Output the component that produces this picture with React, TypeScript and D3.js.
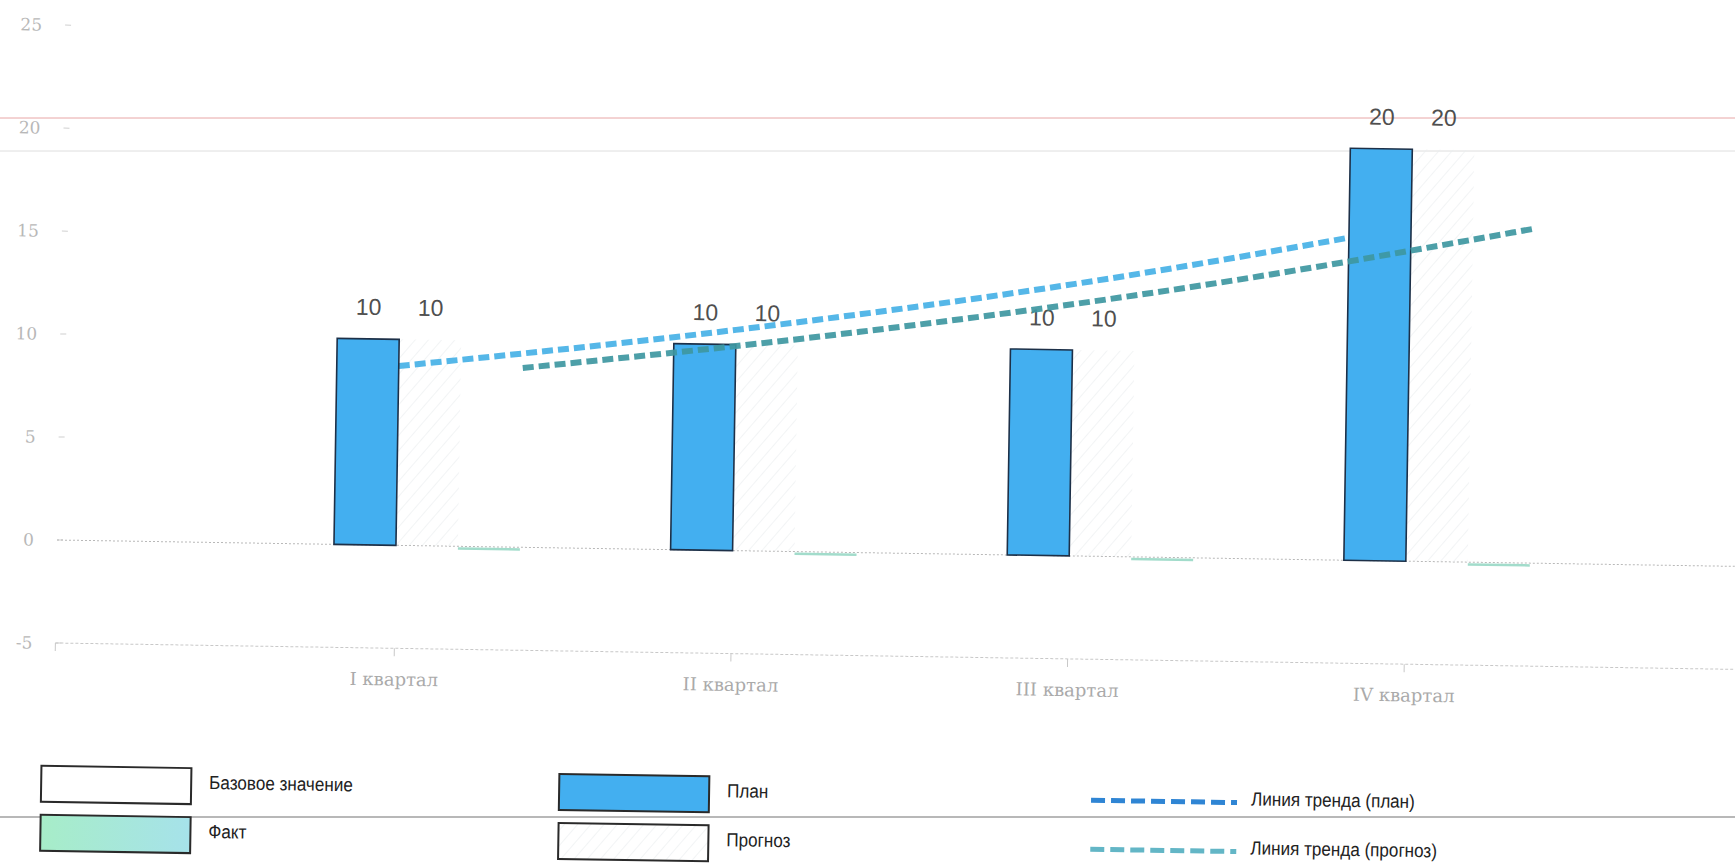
import React from 'react';
import * as d3 from 'd3';

// ---------- data ----------
const categories = ['I квартал', 'II квартал', 'III квартал', 'IV квартал'];
const seriesKeys = ['base', 'plan', 'forecast', 'fact'];
const baseValues = [0, 0, 0, 0];
const planValues = [10, 10, 10, 20];
const forecastValues = [10, 10, 10, 20];
const factValues = [0, 0, 0, 0];
const yTicks = [-5, 0, 5, 10, 15, 20, 25];
const legendLabels = [
  'Базовое значение',
  'Факт',
  'План',
  'Прогноз',
  'Линия тренда (план)',
  'Линия тренда (прогноз)',
];

// ---------- layout / style ----------
const W = 1735;
const H = 865;
const TILT = 0.9;
const PIVOT = [57, 540];
const C = {
  plan: '#43aff0',
  planStroke: '#1d3048',
  hatch: '#e9ecef',
  fact: '#a2dccb',
  trendPlan: '#55b7e8',
  trendForecast: '#3e97a1',
  legTrendPlan: '#2f85d4',
  legTrendForecast: '#63b6c6',
  axisText: '#b8b8b8',
  grid: '#b8b8b8',
  label: '#4f4f4f',
};

function expFit(values: number[]): number[] {
  const xs = values.map((_, i) => i + 1);
  const ls = values.map((v) => Math.log(v));
  const mx = d3.mean(xs) as number;
  const my = d3.mean(ls) as number;
  const b =
    d3.sum(xs, (x, i) => (x - mx) * (ls[i] - my)) /
    d3.sum(xs, (x) => (x - mx) * (x - mx));
  const a = my - b * mx;
  return xs.map((x) => Math.exp(a + b * x));
}

export default function App() {
  const x0 = d3
    .scaleBand<string>()
    .domain(categories)
    .range([57, 1745])
    .paddingInner(0.2634)
    .paddingOuter(0.6386);
  const x1 = d3.scaleBand<string>().domain(seriesKeys).range([0, x0.bandwidth()]);
  const y = d3.scaleLinear().domain([-5, 25]).range([643, 25]);

  const valuesByKey: Record<string, number[]> = {
    base: baseValues,
    plan: planValues,
    forecast: forecastValues,
    fact: factValues,
  };

  const trendPlan = expFit(planValues);
  const trendForecast = expFit(forecastValues);
  const line = d3
    .line<[number, number]>()
    .x((d) => d[0])
    .y((d) => y(d[1]))
    .curve(d3.curveMonotoneX);
  const planTrendPath = line(
    categories.map((c, i) => [(x0(c) as number) + (x1('forecast') as number), trendPlan[i]])
  );
  const forecastTrendPath = line(
    categories.map((c, i) => [(x0(c) as number) + x0.bandwidth(), trendForecast[i]])
  );

  const bw = x1.bandwidth();
  const xL = 57;
  const xR = 1745;

  const legendCols = [45, 563, 1095];
  const legendTextX = [213, 731, 1255];
  const legendRows = [766, 815];
  const swW = 150;
  const swH = 36;

  const legend = [
    { label: legendLabels[0], kind: 'box', fill: '#ffffff', col: 0, row: 0 },
    { label: legendLabels[1], kind: 'box', fill: 'url(#factGrad)', col: 0, row: 1 },
    { label: legendLabels[2], kind: 'box', fill: C.plan, col: 1, row: 0 },
    { label: legendLabels[3], kind: 'box', fill: 'url(#hatch)', col: 1, row: 1 },
    { label: legendLabels[4], kind: 'line', color: C.legTrendPlan, col: 2, row: 0 },
    { label: legendLabels[5], kind: 'line', color: C.legTrendForecast, col: 2, row: 1 },
  ];

  const serif = '"DejaVu Serif", "Liberation Serif", serif';
  const sans = '"Liberation Sans", Arial, sans-serif';

  return (
    <svg
      width={W}
      height={H}
      style={{ position: 'absolute', left: 0, top: 0, background: '#ffffff' }}
    >
      <defs>
        <pattern
          id="hatch"
          width={10}
          height={10}
          patternUnits="userSpaceOnUse"
          patternTransform="rotate(40)"
        >
          <line x1={0} y1={0} x2={0} y2={10} stroke={C.hatch} strokeWidth={1.2} />
        </pattern>
        <linearGradient id="factGrad" x1="0" x2="1" y1="0" y2="0">
          <stop offset="0%" stopColor="#a7edc8" />
          <stop offset="100%" stopColor="#a6e2ea" />
        </linearGradient>
      </defs>

      {/* scan background rules */}
      <line x1={0} x2={W} y1={118} y2={118} stroke="#e8a6a6" strokeWidth={1} />
      <line x1={0} x2={W} y1={151} y2={151} stroke="#dedede" strokeWidth={1} />
      <line x1={0} x2={W} y1={817} y2={817} stroke="#b8b8b8" strokeWidth={2} />

      <g transform={`rotate(${TILT}, ${PIVOT[0]}, ${PIVOT[1]})`}>
        {/* y axis */}
        {yTicks.map((t) => (
          <g key={t} transform={`translate(${xL},${y(t)})`}>
            <line x1={0} x2={6} y1={0} y2={0} stroke="#d0d0d0" />
            <text
              x={-23}
              dy="0.35em"
              textAnchor="end"
              fontFamily={serif}
              fontSize={17}
              fill={C.axisText}
            >
              {t}
            </text>
          </g>
        ))}

        {/* zero grid line */}
        <line
          x1={xL}
          x2={xR}
          y1={y(0)}
          y2={y(0)}
          stroke={C.grid}
          strokeWidth={1}
          strokeDasharray="2 2"
        />

        {/* x axis */}
        <line
          x1={xL}
          x2={xR}
          y1={y(-5)}
          y2={y(-5)}
          stroke="#c8c8c8"
          strokeWidth={1}
          strokeDasharray="3 2"
        />
        <line x1={xL} x2={xL} y1={y(-5)} y2={y(-5) + 8} stroke="#c8c8c8" />
        {categories.map((c) => {
          const cx = (x0(c) as number) + x0.bandwidth() / 2;
          return (
            <g key={c}>
              <line x1={cx} x2={cx} y1={y(-5)} y2={y(-5) + 8} stroke="#c8c8c8" />
              <text
                x={cx}
                y={y(-5) + 31}
                dy="0.35em"
                textAnchor="middle"
                fontFamily={serif}
                fontSize={18}
                fill="#aaaaaa"
              >
                {c}
              </text>
            </g>
          );
        })}

        {/* forecast (hatched, transparent) bars */}
        {categories.map((c, i) => {
          const v = forecastValues[i];
          return (
            <rect
              key={c}
              x={(x0(c) as number) + (x1('forecast') as number)}
              y={y(Math.max(0, v))}
              width={bw}
              height={Math.abs(y(v) - y(0))}
              fill="url(#hatch)"
            />
          );
        })}

        {/* plan trend (behind plan bars) */}
        <path
          d={planTrendPath || ''}
          fill="none"
          stroke={C.trendPlan}
          strokeWidth={6}
          strokeDasharray="11 5"
        />

        {/* other bars */}
        {categories.map((c, i) => (
          <g key={c} transform={`translate(${x0(c)},0)`}>
            {seriesKeys.map((k) => {
              const v = valuesByKey[k][i];
              const bx = x1(k) as number;
              const top = y(Math.max(0, v));
              const h = Math.abs(y(v) - y(0));
              if (k === 'plan') {
                return (
                  <rect
                    key={k}
                    x={bx}
                    y={top}
                    width={bw}
                    height={h}
                    fill={C.plan}
                    stroke={C.planStroke}
                    strokeWidth={1.6}
                  />
                );
              }
              if (k === 'fact') {
                return (
                  <rect
                    key={k}
                    x={bx}
                    y={y(0) + 1}
                    width={bw}
                    height={Math.max(h, 2.5)}
                    fill={C.fact}
                  />
                );
              }
              if (k === 'base') {
                return (
                  <rect key={k} x={bx} y={top} width={bw} height={h} fill="#ffffff" />
                );
              }
              return null;
            })}
            {['plan', 'forecast'].map((k) => (
              <text
                key={k}
                x={(x1(k) as number) + bw / 2}
                y={y(valuesByKey[k][i]) - 24}
                textAnchor="middle"
                fontFamily={sans}
                fontSize={23}
                fill={C.label}
              >
                {valuesByKey[k][i]}
              </text>
            ))}
          </g>
        ))}

        {/* forecast trend (over bars) */}
        <path
          d={forecastTrendPath || ''}
          fill="none"
          stroke={C.trendForecast}
          strokeWidth={6}
          strokeDasharray="11 5"
          opacity={0.92}
        />

        {/* legend */}
        {legend.map((it) => {
          const lx = legendCols[it.col];
          const ly = legendRows[it.row];
          const tx = legendTextX[it.col];
          return (
            <g key={it.label}>
              {it.kind === 'box' ? (
                <rect
                  x={lx}
                  y={ly}
                  width={swW}
                  height={swH}
                  fill={it.fill}
                  stroke="#2a2a2a"
                  strokeWidth={2}
                />
              ) : (
                <line
                  x1={lx}
                  x2={lx + swW - 4}
                  y1={ly + swH / 2}
                  y2={ly + swH / 2}
                  stroke={it.color}
                  strokeWidth={5}
                  strokeDasharray="14 6"
                />
              )}
              <g transform={`translate(${tx},${ly + swH / 2 - 4}) scale(0.9,1)`}>
                <text
                  x={0}
                  y={0}
                  dy="0.35em"
                  fontFamily={sans}
                  fontSize={19}
                  fill="#222222"
                >
                  {it.label}
                </text>
              </g>
            </g>
          );
        })}
      </g>
    </svg>
  );
}
